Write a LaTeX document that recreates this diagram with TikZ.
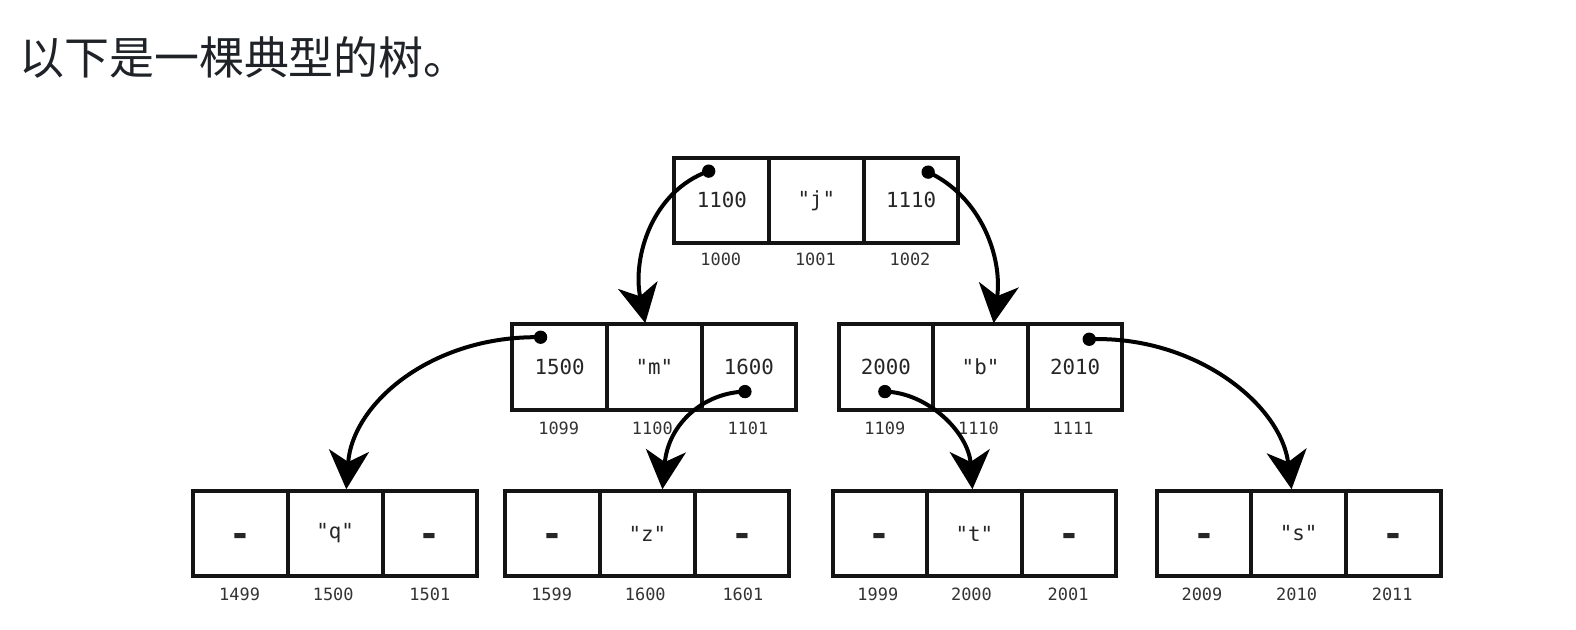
\documentclass[tikz,border=0pt]{standalone}
\usepackage{fontspec}
\setmonofont{DejaVu Sans Mono}
\newfontfamily\cjk{Noto Sans CJK SC}
\usetikzlibrary{arrows.meta}
\definecolor{ink}{HTML}{1F2328}
\begin{document}
\begin{tikzpicture}[x=0.755pt,y=-0.755pt,
  cell/.style={draw=black!92, line width=3pt, minimum width=71pt, minimum height=64pt, inner sep=0pt, font=\ttfamily\fontsize{15.6}{15.6}\selectfont, text=black!85},
  dashcell/.style={cell, font=\ttfamily\bfseries\fontsize{27.2}{27.2}\selectfont, text height=19.5pt, text depth=0pt},
  addr/.style={font=\ttfamily\fontsize{12.7}{12.7}\selectfont, text=black!80, inner sep=0pt},
  ptdot/.style={circle, fill=black, inner sep=0pt, minimum size=10pt},
  ptr/.style={line width=3pt, black, -{Stealth[length=29pt,width=30pt,inset=8.5pt]}}]
\useasboundingbox (0pt,0pt) rectangle (1182pt,-472.5pt);
\fill[white] (0pt,0pt) rectangle (1182pt,-472.5pt);

\node[anchor=west, inner sep=0pt, font=\cjk\fontsize{33.7}{33.7}\selectfont, text=ink] (title) at (19,57) {以下是一棵典型的树。};

% top row
\node[cell] (a1) at (717,199) {1100};
\node[cell] (a2) at (811,199) {"j"};
\node[cell] (a3) at (905,199) {1110};
\node[addr] (la1) at (716,258) {1000};
\node[addr] (la2) at (810,258) {1001};
\node[addr] (la3) at (904,258) {1002};

% middle left
\node[cell] (b1) at (556,364.5) {1500};
\node[cell] (b2) at (650,364.5) {"m"};
\node[cell] (b3) at (744,364.5) {1600};
\node[addr] (lb1) at (555,425) {1099};
\node[addr] (lb2) at (648,425) {1100};
\node[addr] (lb3) at (743,425) {1101};

% middle right
\node[cell] (c1) at (880,364.5) {2000};
\node[cell] (c2) at (974,364.5) {"b"};
\node[cell] (c3) at (1068,364.5) {2010};
\node[addr] (lc1) at (879,425) {1109};
\node[addr] (lc2) at (972,425) {1110};
\node[addr] (lc3) at (1066,425) {1111};

% bottom rows
\node[dashcell] (q1) at (239,530) {-};
\node[cell] (q2) at (333,530) {"q"};
\node[dashcell] (q3) at (427,530) {-};
\node[addr] (lq1) at (238,590) {1499};
\node[addr] (lq2) at (331,590) {1500};
\node[addr] (lq3) at (427,590) {1501};

\node[dashcell] (z1) at (549,530) {-};
\node[cell] (z2) at (643,530) {"z"};
\node[dashcell] (z3) at (737,530) {-};
\node[addr] (lz1) at (548,590) {1599};
\node[addr] (lz2) at (641,590) {1600};
\node[addr] (lz3) at (738,590) {1601};

\node[dashcell] (t1) at (874,530) {-};
\node[cell] (t2) at (968,530) {"t"};
\node[dashcell] (t3) at (1062,530) {-};
\node[addr] (lt1) at (872,590) {1999};
\node[addr] (lt2) at (965,590) {2000};
\node[addr] (lt3) at (1061,590) {2001};

\node[dashcell] (s1) at (1196,530) {-};
\node[cell] (s2) at (1290,530) {"s"};
\node[dashcell] (s3) at (1384,530) {-};
\node[addr] (ls1) at (1194,590) {2009};
\node[addr] (ls2) at (1288,590) {2010};
\node[addr] (ls3) at (1383,590) {2011};

% pointer dots
\node[ptdot] (d1) at (704,170) {};
\node[ptdot] (d2) at (922,171) {};
\node[ptdot] (d3) at (537,335) {};
\node[ptdot] (d4) at (740,389) {};
\node[ptdot] (d5) at (879,389) {};
\node[ptdot] (d6) at (1082,337) {};

% arrow targets
\coordinate (e1) at (641,321);
\coordinate (e2) at (987,321);
\coordinate (e3) at (344,486);
\coordinate (e4) at (658,486);
\coordinate (e5) at (966,486);
\coordinate (e6) at (1283,486);

\draw[ptr] (d1.center) .. controls (648,190) and (628,255) .. (e1);
\draw[ptr] (d2.center) .. controls (974,195) and (996,255) .. (e2);
\draw[ptr] (d3.center) .. controls (430,333) and (350,400) .. (e3);
\draw[ptr] (d4.center) .. controls (700,390) and (664,420) .. (e4);
\draw[ptr] (d5.center) .. controls (922,390) and (962,430) .. (e5);
\draw[ptr] (d6.center) .. controls (1185,333) and (1272,400) .. (e6);
\end{tikzpicture}
\end{document}
